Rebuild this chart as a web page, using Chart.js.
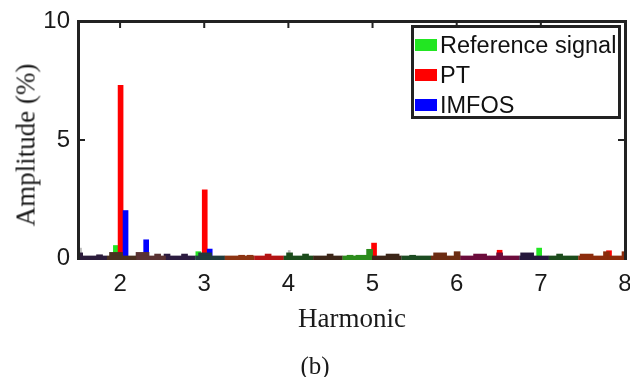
<!DOCTYPE html>
<html><head><meta charset="utf-8">
<script src="https://cdn.jsdelivr.net/npm/chart.js@4.4.1/dist/chart.umd.min.js"></script>
<style>
html,body{margin:0;padding:0;background:#fff;}
#wrap{position:relative;width:630px;height:377px;overflow:hidden;background:#fff;}
canvas{position:absolute;left:0;top:0;}
.serif{font-family:"Liberation Serif","Times New Roman",Times,serif;color:#1a1a1a;position:absolute;white-space:nowrap;line-height:1;}
#ytitle{left:26px;top:145px;font-size:27px;transform:translate(-50%,-50%) rotate(-90deg);}
#xtitle{left:352px;top:318px;font-size:27px;transform:translate(-50%,-50%);}
#cap{left:315px;top:365px;font-size:25px;transform:translate(-50%,-50%);}
#legend{position:absolute;left:411px;top:25px;width:210px;height:94px;box-sizing:border-box;border:3px solid #222;background:#fff;}
.item{position:absolute;left:1px;height:30px;display:flex;align-items:center;font-family:"Liberation Sans",Arial,sans-serif;font-size:23.5px;color:#111;white-space:nowrap;}
.sw{width:22px;height:12px;margin-right:3px;}
</style></head>
<body>
<div id="wrap">
<canvas id="c" width="630" height="377"></canvas>
<div id="ytitle" class="serif">Amplitude (%)</div>
<div id="xtitle" class="serif">Harmonic</div>
<div id="cap" class="serif">(b)</div>
<div id="legend"></div>
</div>
<script>
// ---- data ----
const harmonicTicks = [2, 3, 4, 5, 6, 7, 8];
const amplitudeTicks = [0, 5, 10];
const seriesNames = ['Reference signal', 'PT', 'IMFOS'];

const refX = [1.95, 2.93, 6.98];
const refY = [0.56, 0.30, 0.45];
const ptX = [2.006, 3.006, 5.018, 6.51, 7.81];
const ptY = [7.30, 2.90, 0.66, 0.36, 0.34];
const imfosX = [2.065, 2.31, 3.065];
const imfosY = [2.03, 0.80, 0.41];

// background interharmonic groups (floor band)
const floorX = [1.67, 2.02, 2.37, 2.72, 3.07, 3.42, 3.77, 4.12, 4.47, 4.82, 5.17, 5.52, 5.87, 6.22, 6.57, 6.92, 7.27, 7.62, 7.97];
const floorY = [0.12, 0.12, 0.12, 0.12, 0.12, 0.12, 0.12, 0.12, 0.12, 0.12, 0.12, 0.12, 0.12, 0.12, 0.12, 0.12, 0.12, 0.12, 0.12];
// narrow components on the floor: x, height, group index
const bumpX = [1.52, 1.756, 2.446, 2.558, 2.766, 3.444, 3.545, 3.759, 4.014, 4.204, 4.496, 4.733, 4.965, 5.476, 6.005, 6.51, 7.223, 7.78, 8.0];
const bumpY = [0.25, 0.17, 0.20, 0.20, 0.20, 0.15, 0.15, 0.20, 0.25, 0.20, 0.20, 0.15, 0.40, 0.15, 0.30, 0.25, 0.20, 0.30, 0.30];
const bumpGroup = [0, 0, 2, 3, 3, 5, 5, 6, 7, 7, 8, 9, 9, 11, 12, 14, 16, 17, 18];
// wider components on the floor
const blockX = [1.952, 2.267, 3.01, 4.88, 5.238, 5.803, 6.278, 6.837, 7.544];
const blockY = [0.27, 0.27, 0.25, 0.15, 0.20, 0.25, 0.20, 0.25, 0.20];
const blockGroup = [1, 2, 4, 9, 10, 12, 13, 15, 17];
// faint residual lines
const residX = [1.53, 4.01];
const residY = [0.45, 0.35];

// ---- styles ----
const groupColors = ['#2b1b3b', '#4a3020', '#5a3232', '#2c1c40', '#1f3c3c', '#8c3412', '#b41414', '#1c4c1c', '#3c2618', '#2c8c1c', '#3c2618', '#1c4c22', '#6c2c12', '#6c0c3c', '#6c0c3c', '#26183c', '#1c4c1c', '#8c2c0c', '#8c2c0c'];
const seriesColors = ['#22e622', '#ff0000', '#0000ff'];

function pts(xs, ys) { return xs.map((x, i) => ({ x: x, y: ys[i] })); }

// legend
const leg = document.getElementById('legend');
const rowTops = [2, 32, 62];
seriesNames.forEach((n, i) => {
  const d = document.createElement('div');
  d.className = 'item';
  d.style.top = rowTops[i] + 'px';
  d.innerHTML = '<span class="sw" style="background:' + seriesColors[i] + '"></span><span></span>';
  d.lastChild.textContent = n;
  leg.appendChild(d);
});

const framePlugin = {
  id: 'frame',
  afterDatasetsDraw(chart) {
    const { ctx, chartArea: { left, right, top, bottom }, scales: { x, y } } = chart;
    ctx.save();
    ctx.strokeStyle = '#222';
    ctx.lineWidth = 3;
    ctx.beginPath();
    ctx.moveTo(left + 0.5, bottom);
    ctx.lineTo(left + 0.5, top + 0.5);
    ctx.lineTo(right + 0.5, top + 0.5);
    ctx.lineTo(right + 0.5, bottom);
    ctx.stroke();
    ctx.lineWidth = 2;
    ctx.beginPath();
    harmonicTicks.forEach(v => {
      const px = x.getPixelForValue(v);
      if (px < right - 3) { ctx.moveTo(px, top); ctx.lineTo(px, top + 7); }
    });
    amplitudeTicks.forEach(v => {
      const py = y.getPixelForValue(v);
      if (v > 0 && v < 10) {
        ctx.moveTo(left, py); ctx.lineTo(left + 7, py);
        ctx.moveTo(right, py); ctx.lineTo(right - 7, py);
      }
    });
    ctx.stroke();
    ctx.restore();
  }
};

const tickFont = { family: '"Liberation Sans", Arial, sans-serif', size: 24 };

new Chart(document.getElementById('c').getContext('2d'), {
  type: 'bar',
  data: {
    datasets: [
      { label: 'floor', data: pts(floorX, floorY), backgroundColor: floorX.map((_, i) => groupColors[i]), barThickness: 29, base: -0.05, order: 0 },
      { label: 'bumps', data: pts(bumpX, bumpY), backgroundColor: bumpGroup.map(g => groupColors[g]), barThickness: 6, base: -0.05, order: 0 },
      { label: 'blocks', data: pts(blockX, blockY), backgroundColor: blockGroup.map(g => groupColors[g]), barThickness: 13, base: -0.05, order: 0 },
      { label: seriesNames[0], data: pts(refX, refY), backgroundColor: seriesColors[0], barThickness: 5, order: 3 },
      { label: seriesNames[1], data: pts(ptX, ptY), backgroundColor: seriesColors[1], barThickness: 5, order: 2 },
      { label: seriesNames[2], data: pts(imfosX, imfosY), backgroundColor: seriesColors[2], barThickness: 5, order: 1 },
      { label: 'residual', data: pts(residX, residY), backgroundColor: '#bdbdbd', barThickness: 2, order: 4 }
    ]
  },
  options: {
    responsive: false,
    animation: false,
    events: [],
    datasets: { bar: { grouped: false, borderWidth: 0 } },
    layout: { padding: { left: 0, right: 5, top: 21, bottom: 0 } },
    plugins: { legend: { display: false }, tooltip: { enabled: false } },
    scales: {
      x: {
        type: 'linear', min: 1.5, max: 8, offset: false,
        grid: { display: false, drawTicks: false },
        border: { display: false },
        ticks: { font: tickFont, color: '#1a1a1a', padding: 10, maxRotation: 0, autoSkip: false },
        afterBuildTicks: s => { s.ticks = harmonicTicks.map(v => ({ value: v })); },
        afterFit: s => { s.height = 117; s.paddingLeft = 0; s.paddingRight = 0; }
      },
      y: {
        type: 'linear', min: -0.05, max: 10,
        grid: { display: false, drawTicks: false },
        border: { display: false },
        ticks: { font: tickFont, color: '#1a1a1a', padding: 8 },
        afterBuildTicks: s => { s.ticks = amplitudeTicks.map(v => ({ value: v })); },
        afterFit: s => { s.width = 78; s.paddingTop = 0; s.paddingBottom = 0; }
      }
    }
  },
  plugins: [framePlugin]
});
</script>
</body></html>
